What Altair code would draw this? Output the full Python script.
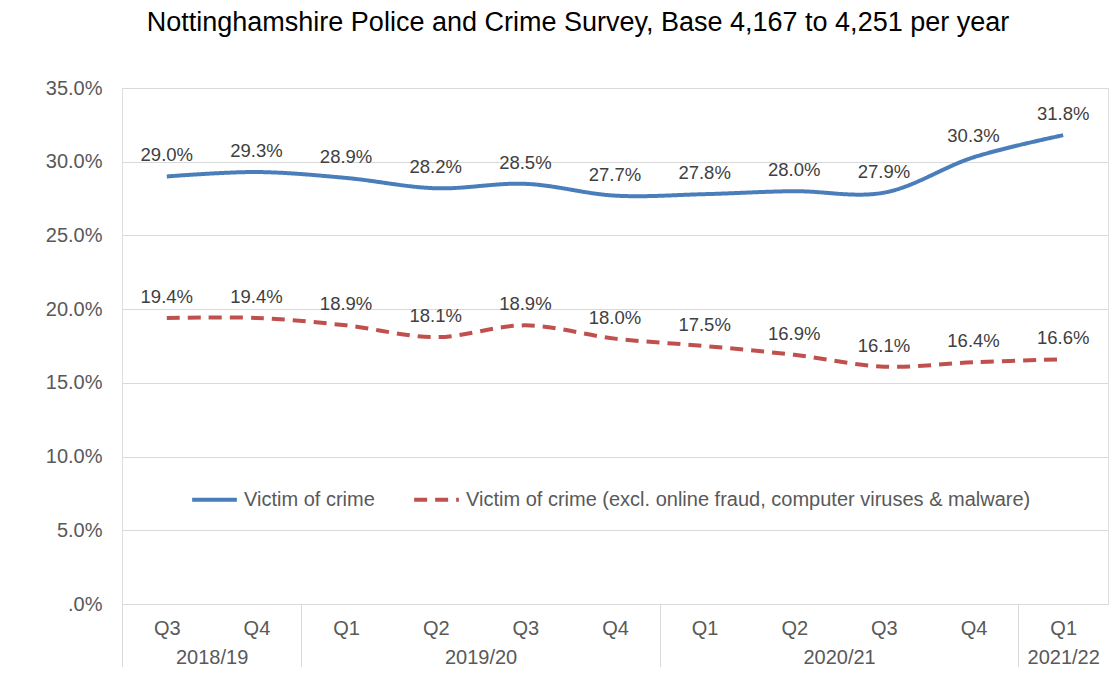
import altair as alt
import pandas as pd

quarters = ["Q3", "Q4", "Q1", "Q2", "Q3", "Q4", "Q1", "Q2", "Q3", "Q4", "Q1"]
years = ["2018/19", "2018/19", "2019/20", "2019/20", "2019/20", "2019/20",
         "2020/21", "2020/21", "2020/21", "2020/21", "2021/22"]
victim = [29.0, 29.3, 28.9, 28.2, 28.5, 27.7, 27.8, 28.0, 27.9, 30.3, 31.8]
victim_excl = [19.4, 19.4, 18.9, 18.1, 18.9, 18.0, 17.5, 16.9, 16.1, 16.4, 16.6]
series_names = ["Victim of crime",
                "Victim of crime (excl. online fraud, computer viruses & malware)"]
y_ticks = [0, 5, 10, 15, 20, 25, 30, 35]

FONT = "Liberation Sans, Arial, sans-serif"
GRID = "#d9d9d9"
TXT = "#595959"

rows = []
for s, vals in zip(series_names, [victim, victim_excl]):
    for i, v in enumerate(vals):
        rows.append({"pos": i + 0.5, "series": s, "value": v, "label": f"{v:.1f}%"})
df = pd.DataFrame(rows)

# year groups (centres and boundaries) derived from the year list
groups = []
start = 0
for i in range(1, len(years) + 1):
    if i == len(years) or years[i] != years[start]:
        groups.append({"year": years[start], "start": start, "end": i, "center": (start + i) / 2})
        start = i
gdf = pd.DataFrame(groups)
bounds = [g["start"] for g in groups]

n = len(quarters)
xscale = alt.Scale(domain=[0, n], nice=False, zero=False)
yscale = alt.Scale(domain=[0, 35], nice=False)

q_expr = "[" + ",".join(f"'{q}'" for q in quarters) + "][floor(datum.value)]"
y_expr = ""
for g in groups:
    y_expr += f"datum.value == {g['center']} ? '{g['year']}' : "
y_expr += "''"

y_axis = alt.Axis(
    values=y_ticks,
    labelExpr="datum.value == 0 ? '.0%' : format(datum.value, '.1f') + '%'",
    ticks=False, domain=False, grid=True, gridColor=GRID, gridWidth=1,
    labelFont=FONT, labelFontSize=20, labelColor=TXT, labelPadding=20, title=None)

color_scale = alt.Scale(domain=series_names, range=["#4a7ebb", "#c0504d"])
dash_scale = alt.Scale(domain=series_names, range=[[1, 0], [13, 8]])
legend = alt.Legend(
    title=None, orient="none", legendX=68, legendY=387, direction="horizontal",
    symbolType="stroke", symbolSize=2000, symbolStrokeWidth=4,
    labelFont=FONT, labelFontSize=20, labelColor=TXT, labelOffset=5,
    columnPadding=31, labelLimit=1000,
)

base = alt.Chart(df)
lines = base.mark_line(interpolate="catmull-rom", strokeWidth=4).encode(
    x=alt.X("pos:Q", scale=xscale, axis=alt.Axis(
        orient="bottom", values=[i + 0.5 for i in range(n)], labelExpr=q_expr,
        ticks=False, grid=False, domain=True, domainColor=GRID, domainWidth=1,
        labelFont=FONT, labelFontSize=20, labelColor=TXT, labelPadding=14, title=None)),
    y=alt.Y("value:Q", scale=yscale, axis=y_axis),
    color=alt.Color("series:N", scale=color_scale, legend=legend),
    strokeDash=alt.StrokeDash("series:N", scale=dash_scale, legend=legend),
)
labels = base.mark_text(dy=-21, font=FONT, fontSize=18.5, color="#404040").encode(
    x=alt.X("pos:Q", scale=xscale, axis=None),
    y=alt.Y("value:Q", scale=yscale, axis=y_axis),
    text="label:N",
)

year_axis = alt.Chart(gdf).mark_point(opacity=0).encode(
    x=alt.X("center:Q", scale=xscale, axis=alt.Axis(
        orient="bottom", values=[g["center"] for g in groups], labelExpr=y_expr,
        ticks=False, grid=False, domain=False,
        labelFont=FONT, labelFontSize=20, labelColor=TXT, labelPadding=43, title=None)),
)
sep_axis = alt.Chart(gdf).mark_point(opacity=0).encode(
    x=alt.X("start:Q", scale=xscale, axis=alt.Axis(
        orient="bottom", values=bounds, labels=False, ticks=True, tickSize=72,
        tickColor=GRID, tickWidth=1, grid=False, domain=False, title=None)),
)

chart = alt.layer(lines, labels, year_axis, sep_axis).resolve_axis(
    x="independent"
).properties(
    width=986, height=516,
    padding={"left": 114, "top": 80, "right": 2, "bottom": 63},
    autosize=alt.AutoSizeParams(type="none"),
    title=alt.TitleParams(
        text="Nottinghamshire Police and Crime Survey, Base 4,167 to 4,251 per year",
        font=FONT, fontSize=27, fontWeight="normal", color="#000000",
        anchor="middle", dx=-37, offset=41),
).configure_view(strokeWidth=0, stroke="transparent").configure(background="white")

chart.save("out.html", embed_options={"renderer": "svg", "actions": False})
